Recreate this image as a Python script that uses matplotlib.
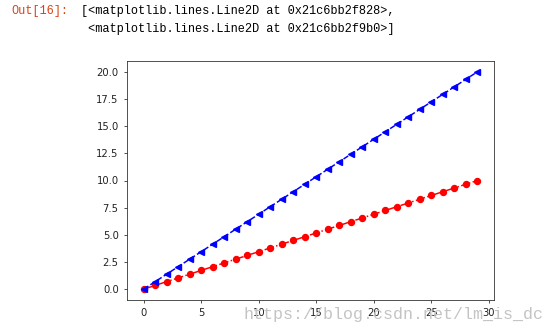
import matplotlib.pyplot as plt

# values of the two lines (plotted against their index 0..29)
red_y = [0.0, 0.345, 0.690, 1.034, 1.379, 1.724, 2.069, 2.414, 2.759, 3.103,
         3.448, 3.793, 4.138, 4.483, 4.828, 5.172, 5.517, 5.862, 6.207, 6.552,
         6.897, 7.241, 7.586, 7.931, 8.276, 8.621, 8.966, 9.310, 9.655, 10.0]
blue_y = [0.0, 0.690, 1.379, 2.069, 2.759, 3.448, 4.138, 4.828, 5.517, 6.207,
          6.897, 7.586, 8.276, 8.966, 9.655, 10.345, 11.034, 11.724, 12.414, 13.103,
          13.793, 14.483, 15.172, 15.862, 16.552, 17.241, 17.931, 18.621, 19.310, 20.0]
x_ticks = [0, 5, 10, 15, 20, 25, 30]
y_ticks = [0.0, 2.5, 5.0, 7.5, 10.0, 12.5, 15.0, 17.5, 20.0]

fig = plt.figure(figsize=(5.59, 3.34), dpi=100)
ax = fig.add_axes([127/559, 1-300/334, (494-127)/559, (300-61)/334])

ax.plot(red_y, 'r-.o', blue_y, 'b--<', markersize=4.3, linewidth=1.08)
ax.set_xticks(x_ticks)
ax.set_yticks(y_ticks)
ax.set_yticklabels(['%.1f' % v for v in y_ticks])
ax.tick_params(labelsize=7.2, length=2.5, width=0.6, colors='#333333', labelcolor='#222222')
for s in ax.spines.values():
    s.set_linewidth(0.6)
    s.set_color('#333333')

# notebook output text
fig.text(11/559, 1-11/334, 'Out[16]:', color='#D84315', family='Liberation Mono',
         fontsize=8.6, va='center')
fig.text(81/559, 1-11/334, '[<matplotlib.lines.Line2D at 0x21c6bb2f828>,',
         color='black', family='Liberation Mono', fontsize=8.6, va='center')
fig.text(81/559, 1-29/334, ' <matplotlib.lines.Line2D at 0x21c6bb2f9b0>]',
         color='black', family='Liberation Mono', fontsize=8.6, va='center')

# watermark
fig.text(244/559, 1-315/334, 'https://blog.csdn.net/lm_is_dc', color='#c4c4c4',
         family='Liberation Mono', fontsize=12, va='center')

fig.savefig('out.png', dpi=100)
